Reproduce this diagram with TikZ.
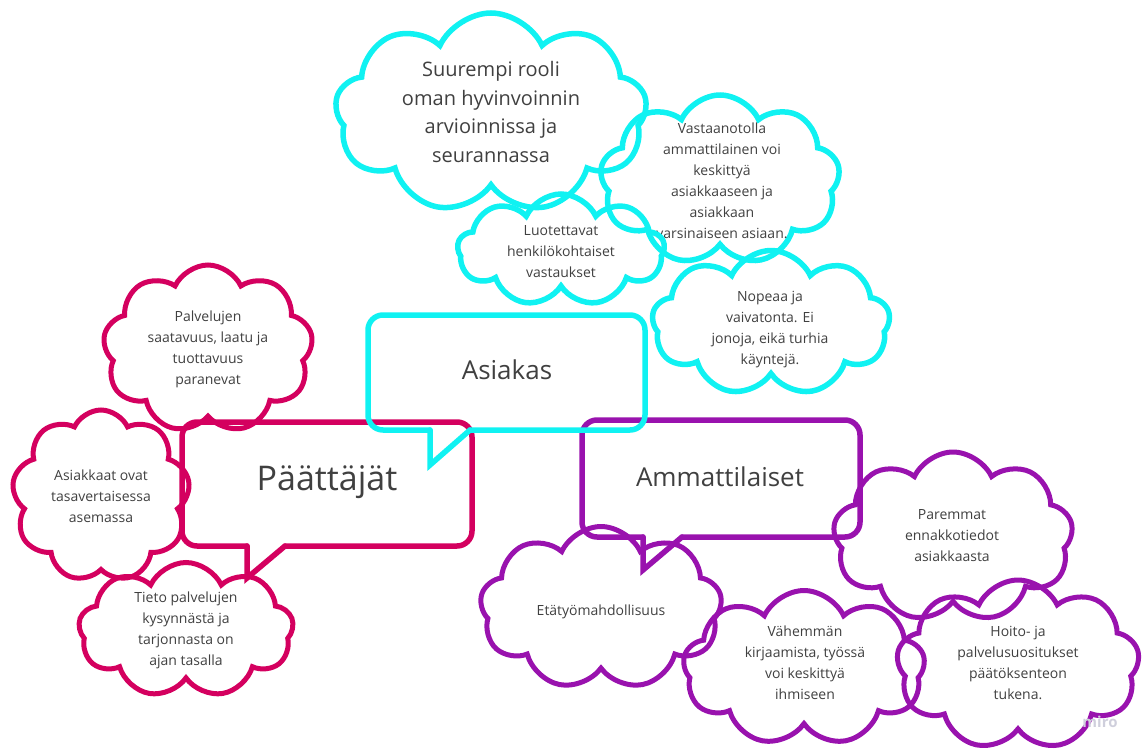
\documentclass[tikz,border=0pt]{standalone}
\usepackage{fontspec}
\setmainfont{Open Sans}
\usetikzlibrary{shapes.symbols}
\definecolor{cyanline}{HTML}{10F2F2}
\definecolor{pinkline}{HTML}{D4005F}
\definecolor{purpleline}{HTML}{9912AE}
\definecolor{textgray}{HTML}{404040}
\definecolor{markgray}{HTML}{CFCFDC}
\begin{document}
\begin{tikzpicture}[x=1pt,y=-1pt,
  cloudbox/.style={cloud, cloud puffs=9, cloud puff arc=130, cloud ignores aspect,
    draw=#1, line width=5pt, inner sep=0pt},
  bubble/.style={draw=#1, line width=5.5pt, rounded corners=15pt, line cap=round},
  tail/.style={draw=#1, line width=5.5pt, line cap=round, line join=miter},
  txt/.style={text=textgray, align=center, font=\fontsize{14}{21}\selectfont},
  bigtxt/.style={text=textgray, align=center, font=\fontsize{20}{28.5}\selectfont},
  headtxt/.style={text=textgray, font=\fontsize{#1}{#1}\selectfont}]
\useasboundingbox (0,0) rectangle (1142,749);

% --- Päättäjät (decision makers) ---
\draw[bubble=pinkline] (285,546) -- (472,546) -- (472,422) -- (182,422) -- (182,546) -- (247,546);
\draw[tail=pinkline] (247,546) -- (247,578) -- (285,546);
\node[headtxt=34] (paat) at (327,482) {Päättäjät};

\node[cloudbox=pinkline, minimum width=210pt, minimum height=168pt] (m1) at (208,349) {};
\node[txt] (m1t) at (m1.center) {Palvelujen\\saatavuus, laatu ja\\tuottavuus\\paranevat};
\node[cloudbox=pinkline, minimum width=178pt, minimum height=172pt] (m2) at (101,496) {};
\node[txt] (m2t) at (m2.center) {Asiakkaat ovat\\tasavertaisessa\\asemassa};
\node[cloudbox=pinkline, minimum width=215pt, minimum height=135pt] (m3) at (186,630) {};
\node[txt] (m3t) at (m3.center) {Tieto palvelujen\\kysynnästä ja\\tarjonnasta on\\ajan tasalla};

% --- Ammattilaiset (professionals) ---
\draw[bubble=purpleline] (682,537) -- (860,537) -- (860,420) -- (582,420) -- (582,537) -- (643,537);
\draw[tail=purpleline] (643,537) -- (643,570) -- (682,537);
\node[headtxt=26] (amm) at (720,477) {Ammattilaiset};

\node[cloudbox=purpleline, minimum width=242pt, minimum height=163pt] (p1) at (601,608) {};
\node[txt] (p1t) at (601,612) {Etätyömahdollisuus};
\node[cloudbox=purpleline, minimum width=242pt, minimum height=155pt] (p2) at (804,668) {};
\node[txt] (p2t) at (805,663) {Vähemmän\\kirjaamista, työssä\\voi keskittyä\\ihmiseen};
\node[cloudbox=purpleline, minimum width=240pt, minimum height=170pt] (p3) at (953,537) {};
\node[txt] (p3t) at (952,536) {Paremmat\\ennakkotiedot\\asiakkaasta};
\node[cloudbox=purpleline, minimum width=243pt, minimum height=170pt] (p4) at (1018,665) {};
\node[txt] (p4t) at (1018,663) {Hoito- ja\\palvelusuositukset\\päätöksenteon\\tukena.};

% --- Asiakas (customer) ---
\draw[bubble=cyanline] (470,430) -- (645,430) -- (645,315) -- (368,315) -- (368,430) -- (430,430);
\draw[tail=cyanline] (430,430) -- (430,465) -- (470,430);
\node[headtxt=26] (asi) at (507,370) {Asiakas};

\node[cloudbox=cyanline, line width=5.5pt, minimum width=312pt, minimum height=200pt] (c1) at (491,113) {};
\node[bigtxt] (c1t) at (491,112) {Suurempi rooli\\oman hyvinvoinnin\\arvioinnissa ja\\seurannassa};
\node[cloudbox=cyanline, line width=5.5pt, minimum width=240pt, minimum height=170pt] (c2) at (720,180) {};
\node[txt] (c2t) at (722,181) {Vastaanotolla\\ammattilainen voi\\keskittyä\\asiakkaaseen ja\\asiakkaan\\varsinaiseen asiaan.};
\node[cloudbox=cyanline, line width=5.5pt, minimum width=207pt, minimum height=112pt] (c3) at (561,250) {};
\node[txt] (c3t) at (561,252) {Luotettavat\\henkilökohtaiset\\vastaukset};
\node[cloudbox=cyanline, line width=5.5pt, minimum width=238pt, minimum height=145pt] (c4) at (771,323) {};
\node[txt] (c4t) at (770,330) {Nopeaa ja\\vaivatonta. Ei\\jonoja, eikä turhia\\käyntejä.};

\node[text=markgray, font=\bfseries\fontsize{15}{15}\selectfont] (mark) at (1100,722) {miro};
\end{tikzpicture}
\end{document}
